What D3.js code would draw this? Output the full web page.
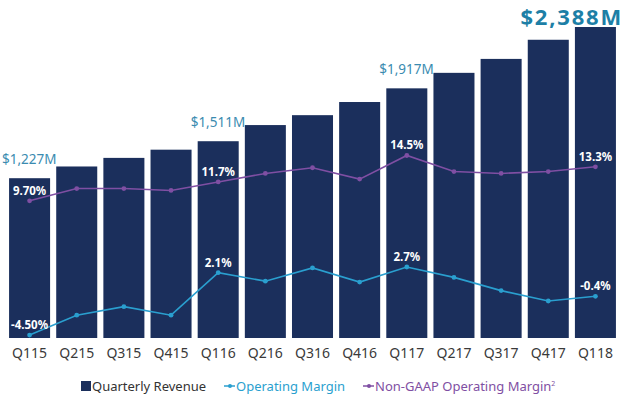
<!DOCTYPE html>
<html>
<head>
  <meta charset="utf-8">
  <script src="https://d3js.org/d3.v7.min.js"></script>
</head>
<style>
  body { margin: 0; background: #fff; }
  text { font-family: "Noto Sans", "Open Sans", sans-serif; }
</style>
<body>
  <svg width="624" height="397"></svg>

  <script>
    // Data
    const quarters = ['Q115','Q215','Q315','Q415','Q116','Q216','Q316','Q416','Q117','Q217','Q317','Q417','Q118'];
    const revenue = [1227, 1317, 1383, 1446, 1511, 1635, 1711, 1812, 1917, 2036, 2143, 2290, 2388];
    const opMargin = [-4.5, -2.4, -1.5, -2.4, 2.1, 1.2, 2.6, 1.1, 2.7, 1.6, 0.2, -0.9, -0.4];
    const nonGaapMargin = [9.7, 11.0, 11.0, 10.8, 11.7, 12.6, 13.2, 12.0, 14.5, 12.8, 12.6, 12.8, 13.3];

    // labels shown on the chart: [index, text]
    const revenueLabels = [[0, '$1,227M'], [4, '$1,511M'], [8, '$1,917M'], [12, '$2,388M']];
    const opLabels = [[0, '-4.50%'], [4, '2.1%'], [8, '2.7%'], [12, '-0.4%']];
    const nonGaapLabels = [[0, '9.70%'], [4, '11.7%'], [8, '14.5%'], [12, '13.3%']];

    const barColor = '#1b2f5c';
    const opColor = '#2a9fcf';
    const ngColor = '#7f4fa3';
    const revLabelColor = '#3a8bb0';

    const svg = d3.select('svg');

    // scales
    const x = d3.scaleBand()
      .domain(quarters)
      .range([6, 619])
      .paddingInner(0.13)
      .paddingOuter(0.065);

    const y = d3.scaleLinear()
      .domain([0, 2388])
      .range([338, 27]);

    const yPct = d3.scaleLinear()
      .domain([0, 10])
      .range([292.5, 198]);

    const cx = i => x(quarters[i]) + x.bandwidth() / 2;

    // bars
    svg.selectAll('.bar')
      .data(revenue)
      .enter()
      .append('rect')
      .attr('class', 'bar')
      .attr('x', (d, i) => x(quarters[i]))
      .attr('y', d => y(d))
      .attr('width', x.bandwidth())
      .attr('height', d => y(0) - y(d))
      .attr('fill', barColor);

    // x axis labels
    const xAxis = svg.append('g')
      .attr('transform', 'translate(0,348)')
      .call(d3.axisBottom(x).tickSize(0).tickPadding(0));
    xAxis.select('.domain').remove();
    xAxis.selectAll('text')
      .attr('dy', '0.71em')
      .style('font-size', '14px')
      .style('font-family', '"Noto Sans", sans-serif')
      .attr('fill', '#3a3a3a');

    // lines
    function drawLine(values, color) {
      const line = d3.line()
        .x((d, i) => cx(i))
        .y(d => yPct(d));
      svg.append('path')
        .datum(values)
        .attr('d', line)
        .attr('fill', 'none')
        .attr('stroke', color)
        .attr('stroke-width', 1.6);
      svg.append('g').selectAll('circle')
        .data(values)
        .enter()
        .append('circle')
        .attr('cx', (d, i) => cx(i))
        .attr('cy', d => yPct(d))
        .attr('r', 2.4)
        .attr('fill', color);
    }
    drawLine(nonGaapMargin, ngColor);
    drawLine(opMargin, opColor);

    // percent labels (white, bold)
    function pctLabels(labels, values) {
      svg.append('g').selectAll('text')
        .data(labels)
        .enter()
        .append('text')
        .attr('x', d => cx(d[0]))
        .attr('y', d => yPct(values[d[0]]) - 6)
        .attr('text-anchor', 'middle')
        .attr('fill', '#fff')
        .style('font-size', '11.5px')
        .style('font-weight', 'bold')
        .text(d => d[1]);
    }
    pctLabels(nonGaapLabels, nonGaapMargin);
    pctLabels(opLabels, opMargin);

    // revenue labels
    svg.append('g').selectAll('text')
      .data(revenueLabels)
      .enter()
      .append('text')
      .attr('x', d => d[0] === 12 ? 623 : x(quarters[d[0]]) - 7)
      .attr('y', d => y(revenue[d[0]]) - (d[0] === 12 ? 2 : 14))
      .attr('text-anchor', d => d[0] === 12 ? 'end' : 'start')
      .attr('fill', d => d[0] === 12 ? '#1d7fa6' : revLabelColor)
      .style('font-size', d => d[0] === 12 ? '22px' : '13.5px')
      .style('letter-spacing', d => d[0] === 12 ? '1.8px' : null)
      .style('font-weight', d => d[0] === 12 ? 'bold' : 'normal')
      .text(d => d[1]);

    // legend
    const legend = svg.append('g').attr('transform', 'translate(0,386)');
    legend.append('rect')
      .attr('x', 81).attr('y', -5)
      .attr('width', 10).attr('height', 10)
      .attr('fill', barColor);
    legend.append('text')
      .attr('x', 92).attr('y', 5)
      .attr('fill', '#333')
      .style('font-size', '13px')
      .text('Quarterly Revenue');

    const legendLines = [
      {x: 224, color: opColor, label: 'Operating Margin'},
      {x: 363, color: ngColor, label: 'Non-GAAP Operating Margin'}
    ];
    legendLines.forEach(l => {
      legend.append('line')
        .attr('x1', l.x).attr('x2', l.x + 11)
        .attr('y1', 0).attr('y2', 0)
        .attr('stroke', l.color).attr('stroke-width', 1.5);
      legend.append('circle')
        .attr('cx', l.x + 6).attr('cy', 0).attr('r', 2)
        .attr('fill', l.color);
      const t = legend.append('text')
        .attr('x', l.x + 12).attr('y', 5)
        .attr('fill', l.color)
        .style('font-size', '13px')
        .text(l.label);
      if (l.color === ngColor) {
        t.append('tspan')
          .attr('dy', -5)
          .style('font-size', '7px')
          .text('2');
      }
    });
  </script>
</body>
</html>
